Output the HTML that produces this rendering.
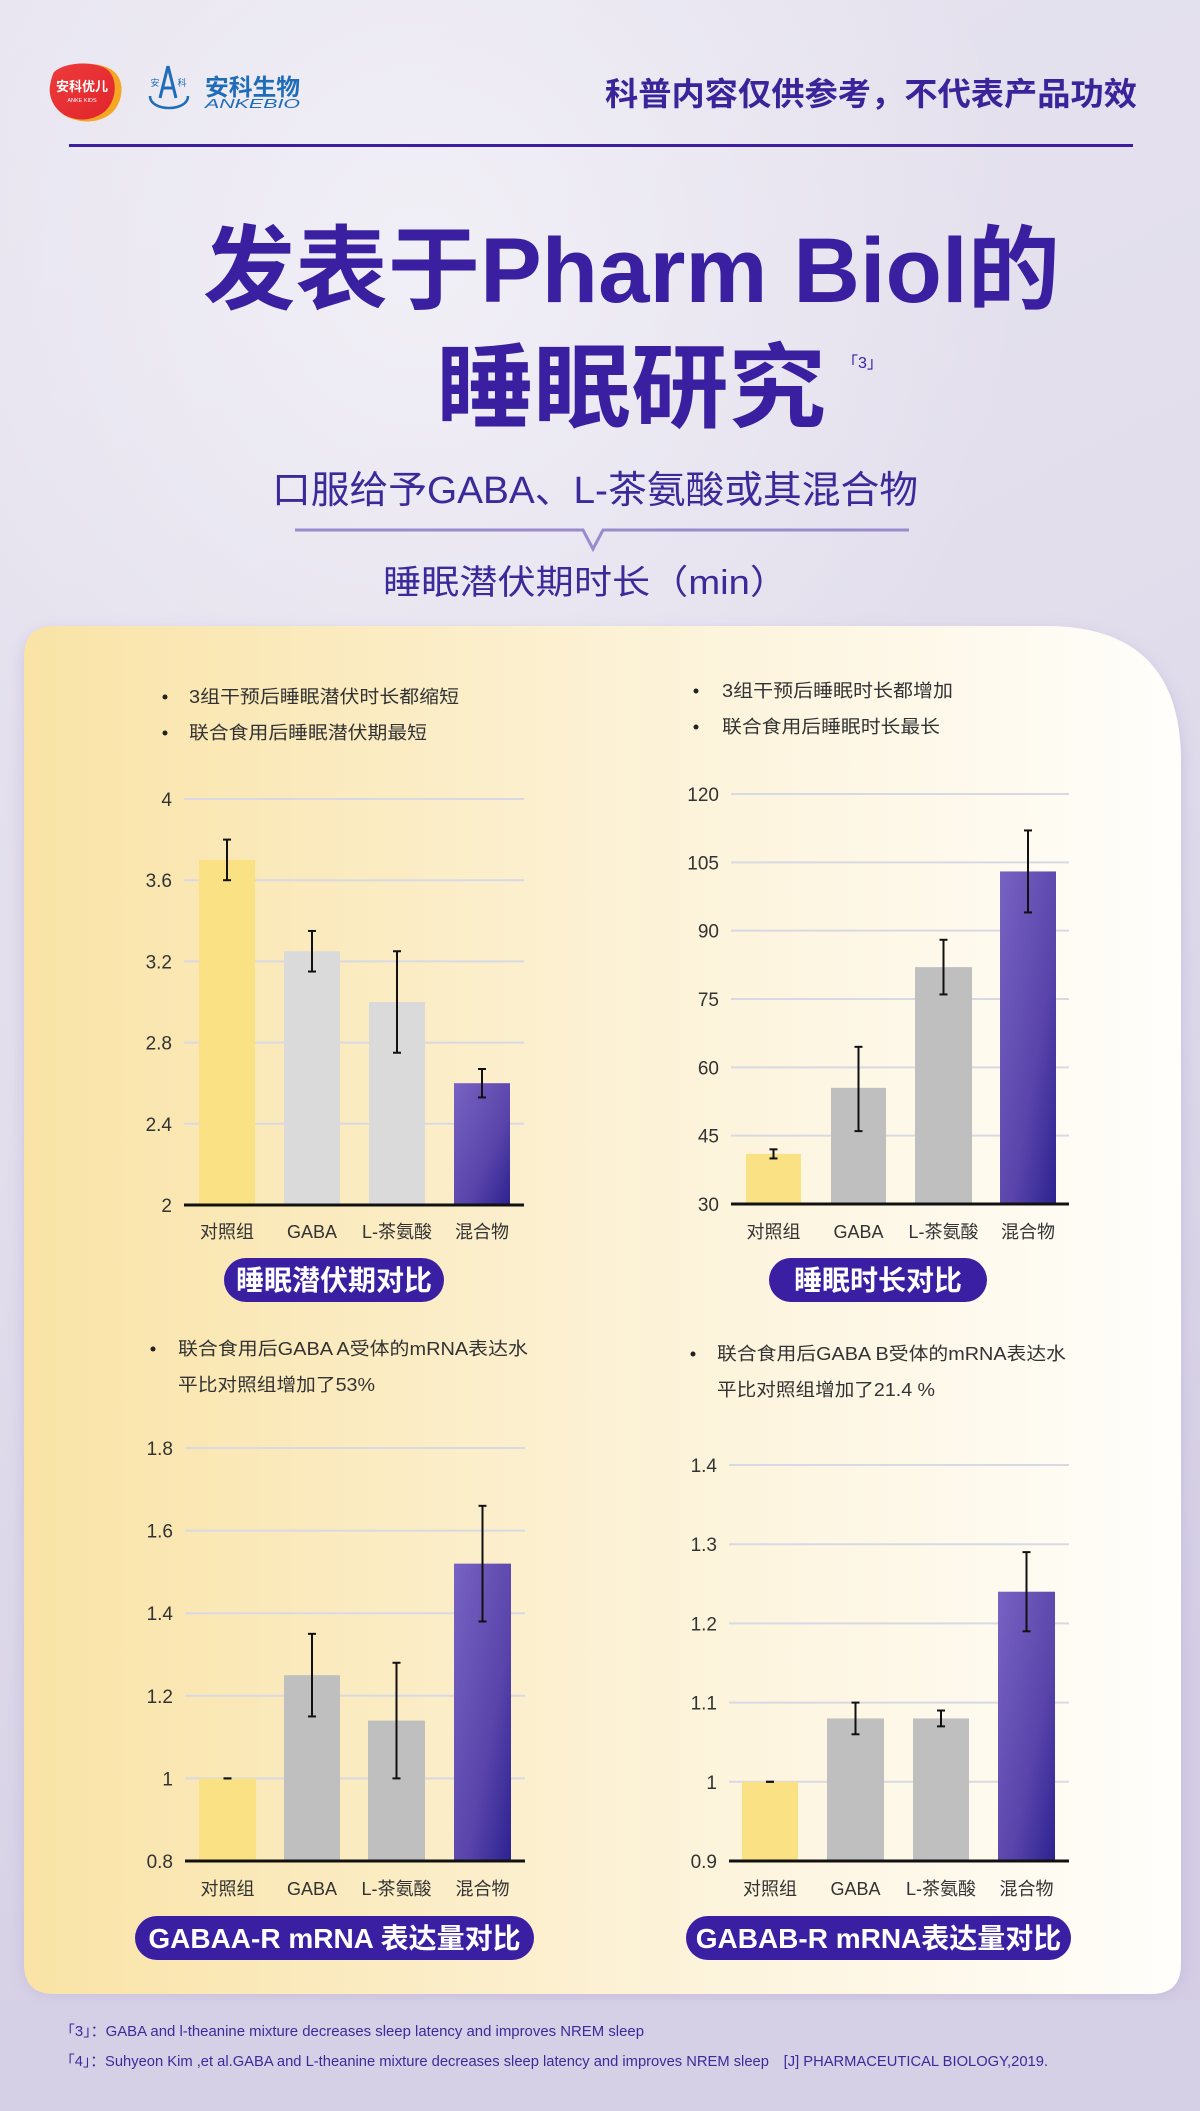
<!DOCTYPE html>
<html><head><meta charset="utf-8"><style>
html,body{margin:0;padding:0;width:1200px;height:2111px;overflow:hidden;background:#e5e2ee}
svg{display:block}
text{font-family:"Liberation Sans","Noto Sans CJK SC",sans-serif}
</style></head><body>
<svg id="s" width="1200" height="2111" viewBox="0 0 1200 2111" xmlns="http://www.w3.org/2000/svg">
<defs>
<linearGradient id="bg" x1="0" y1="0" x2="0.3" y2="1">
<stop offset="0" stop-color="#e7e4f0"/><stop offset="0.5" stop-color="#e2deec"/><stop offset="1" stop-color="#d4cde4"/></linearGradient>
<radialGradient id="glow" cx="0.35" cy="0.2" r="0.5"><stop offset="0" stop-color="#f1eff6"/><stop offset="1" stop-color="#f1eff6" stop-opacity="0"/></radialGradient>
<linearGradient id="card" x1="0" y1="0" x2="1" y2="0">
<stop offset="0" stop-color="#f9e3a6"/><stop offset="0.5" stop-color="#fcf1d4"/><stop offset="1" stop-color="#fffefb"/></linearGradient>
<linearGradient id="pur" x1="0" y1="0" x2="1" y2="1">
<stop offset="0" stop-color="#7763c2"/><stop offset="0.6" stop-color="#5a45ab"/><stop offset="1" stop-color="#2c2290"/></linearGradient>
<linearGradient id="red" x1="0" y1="0" x2="1" y2="1"><stop offset="0" stop-color="#ee3b3b"/><stop offset="1" stop-color="#e0252c"/></linearGradient>
<filter id="sh" x="-5%" y="-5%" width="110%" height="110%"><feGaussianBlur stdDeviation="8"/></filter>
</defs>
<rect width="1200" height="2111" fill="url(#bg)"/>
<rect width="1200" height="1300" fill="url(#glow)"/>
<rect x="0" y="2000" width="1200" height="111" fill="#d6d0e6"/>

<path d="M56 72 C70 60 100 62 112 70 C124 78 124 96 116 108 C108 120 90 124 76 120 C58 116 48 100 50 86 C51 80 52 76 56 72Z" fill="#f5a623"/>
<path d="M54 72 C68 60 98 62 108 70 C118 80 116 98 108 108 C100 118 84 122 72 118 C56 114 48 98 50 86 C51 80 52 76 54 72Z" fill="url(#red)"/>
<text x="82" y="91" font-size="13" font-weight="bold" fill="#fff" text-anchor="middle">安科优儿</text>
<text x="82" y="102" font-size="5.5" fill="#fff" text-anchor="middle">ANKE KIDS</text>
<path d="M168 66 L160 98 M168 66 L176 98 M163 88 L173 88" stroke="#1f6cb8" stroke-width="3" fill="none"/>
<path d="M150 96 C150 112 188 112 188 96" stroke="#1f6cb8" stroke-width="2.5" fill="none"/>
<text x="155" y="86" font-size="9" fill="#1f6cb8" text-anchor="middle">安</text>
<text x="182" y="86" font-size="9" fill="#1f6cb8" text-anchor="middle">科</text>
<text x="205" y="95" font-size="23" font-weight="bold" fill="#1f6cb8" textLength="95" lengthAdjust="spacingAndGlyphs">安科生物</text>
<text x="205" y="108" font-size="13" font-style="italic" fill="#1f6cb8" textLength="95" lengthAdjust="spacingAndGlyphs">ANKEBIO</text>

<text x="605" y="105" font-size="32" font-weight="bold" fill="#3b2399" textLength="532" lengthAdjust="spacingAndGlyphs">科普内容仅供参考，不代表产品功效</text>
<rect x="69" y="144" width="1064" height="3" fill="#3d1e9e"/>

<text x="203" y="302" font-size="92" font-weight="bold" fill="#3a1fa0" textLength="857" lengthAdjust="spacingAndGlyphs">发表于Pharm Biol的</text>
<text x="436" y="420" font-size="92" font-weight="bold" fill="#3a1fa0" textLength="390" lengthAdjust="spacingAndGlyphs">睡眠研究</text>
<text x="842" y="368" font-size="16" fill="#3a1fa0">「3」</text>
<text x="272" y="503" font-size="38" fill="#3d2a9a" textLength="646" lengthAdjust="spacingAndGlyphs">口服给予GABA、L-茶氨酸或其混合物</text>
<path d="M295 530 L583 530 L593 549 L603 530 L909 530" stroke="#9a8bcd" stroke-width="3" fill="none"/>
<text x="383" y="594" font-size="34" fill="#3d2a9a" textLength="405" lengthAdjust="spacingAndGlyphs">睡眠潜伏期时长（min）</text>

<path d="M54 632 L1046 632 Q1181 632 1181 767 L1181 1964 Q1181 1994 1151 1994 L54 1994 Q24 1994 24 1964 L24 662 Q24 632 54 632Z" fill="#b8aed6" opacity="0.6" filter="url(#sh)"/>
<path d="M54 626 L1046 626 Q1181 626 1181 761 L1181 1964 Q1181 1994 1151 1994 L54 1994 Q24 1994 24 1964 L24 656 Q24 626 54 626Z" fill="url(#card)"/>
<g id="charts"></g>

<text x="60" y="2036" font-size="15" fill="#3d2a9a" textLength="584" lengthAdjust="spacingAndGlyphs">「3」：GABA and l-theanine mixture decreases sleep latency and improves NREM sleep</text>
<text x="60" y="2066" font-size="15" fill="#3d2a9a" textLength="988" lengthAdjust="spacingAndGlyphs">「4」：Suhyeon Kim ,et al.GABA and L-theanine mixture decreases sleep latency and improves NREM sleep　[J] PHARMACEUTICAL BIOLOGY,2019.</text>
</svg>
<script>
var NS="http://www.w3.org/2000/svg",g=document.getElementById("charts");
function el(t,a,txt){var e=document.createElementNS(NS,t);for(var k in a)e.setAttribute(k,a[k]);if(txt!=null)e.textContent=txt;g.appendChild(e);return e;}
var charts=[
{x0:184,x1:524,vmin:2,vmax:4,y0:1205,y1:799,ticks:[2,2.4,2.8,3.2,3.6,4],bars:[[199,255],[284,340],[369,425],[454,510]],vals:[[3.7,3.6,3.8],[3.25,3.15,3.35],[3,2.75,3.25],[2.6,2.53,2.67]],gray:"#dadada",lbY:1238,
 bul:{dx:165,tx:189,y:[703,739],t:["3组干预后睡眠潜伏时长都缩短","联合食用后睡眠潜伏期最短"],w:[270,238],dot:[1,1]},btn:[224,444,1258,1302,"睡眠潜伏期对比",28]},
{x0:731,x1:1069,vmin:30,vmax:120,y0:1204,y1:794,ticks:[30,45,60,75,90,105,120],bars:[[746,801],[831,886],[915,972],[1000,1056]],vals:[[41,40,42],[55.5,46,64.5],[82,76,88],[103,94,112]],gray:"#bfbfbf",lbY:1238,
 bul:{dx:696,tx:722,y:[697,733],t:["3组干预后睡眠时长都增加","联合食用后睡眠时长最长"],w:[231,218],dot:[1,1]},btn:[769,987,1258,1302,"睡眠时长对比",28]},
{x0:185,x1:525,vmin:0.8,vmax:1.8,y0:1861,y1:1448,ticks:[0.8,1,1.2,1.4,1.6,1.8],bars:[[199,256],[284,340],[368,425],[454,511]],vals:[[1,1,1],[1.25,1.15,1.35],[1.14,1,1.28],[1.52,1.38,1.66]],gray:"#bfbfbf",lbY:1895,
 bul:{dx:153,tx:178,y:[1355,1391],t:["联合食用后GABA A受体的mRNA表达水","平比对照组增加了53%"],w:[350,197],dot:[1,0]},btn:[135,534,1916,1960,"GABAA-R mRNA 表达量对比",28]},
{x0:729,x1:1069,vmin:0.9,vmax:1.4,y0:1861,y1:1465,ticks:[0.9,1,1.1,1.2,1.3,1.4],bars:[[742,798],[827,884],[913,969],[998,1055]],vals:[[1,1,1],[1.08,1.06,1.1],[1.08,1.07,1.09],[1.24,1.19,1.29]],gray:"#bfbfbf",lbY:1895,
 bul:{dx:693,tx:717,y:[1360,1396],t:["联合食用后GABA B受体的mRNA表达水","平比对照组增加了21.4 %"],w:[349,218],dot:[1,0]},btn:[686,1071,1916,1960,"GABAB-R mRNA表达量对比",28]}];
var labels=["对照组","GABA","L-茶氨酸","混合物"];
charts.forEach(function(c){
 function Y(v){return c.y0+(v-c.vmin)/(c.vmax-c.vmin)*(c.y1-c.y0);}
 c.ticks.forEach(function(t){var y=Y(t);
  if(t!=c.vmin)el("line",{x1:c.x0,x2:c.x1,y1:y,y2:y,stroke:"#d9d9e3","stroke-width":2});
  el("text",{x:c.x0-12,y:y+7,"font-size":19,fill:"#333","text-anchor":"end"},String(t));});
 c.bars.forEach(function(b,i){var v=c.vals[i],top=Y(v[0]);
  var fill=i==0?"#f9e184":(i==3?"url(#pur)":c.gray);
  el("rect",{x:b[0],y:top,width:b[1]-b[0],height:c.y0-top,fill:fill});
  var cx=(b[0]+b[1])/2,a=Y(v[1]),z=Y(v[2]);
  el("line",{x1:cx,x2:cx,y1:a,y2:z,stroke:"#111","stroke-width":2});
  el("line",{x1:cx-4,x2:cx+4,y1:a,y2:a,stroke:"#111","stroke-width":2});
  el("line",{x1:cx-4,x2:cx+4,y1:z,y2:z,stroke:"#111","stroke-width":2});
  el("text",{x:cx,y:c.lbY,"font-size":18,fill:"#333","text-anchor":"middle"},labels[i]);});
 el("line",{x1:c.x0,x2:c.x1,y1:c.y0,y2:c.y0,stroke:"#111","stroke-width":3});
 c.bul.y.forEach(function(y,i){
  if(c.bul.dot[i])el("circle",{cx:c.bul.dx,cy:y-6,r:2.5,fill:"#222"});
  el("text",{x:c.bul.tx,y:y,"font-size":18,fill:"#333",textLength:c.bul.w[i],lengthAdjust:"spacingAndGlyphs"},c.bul.t[i]);});
 var b=c.btn,h=b[3]-b[2];
 el("rect",{x:b[0],y:b[2],width:b[1]-b[0],height:h,rx:h/2,fill:"#3a1fa3"});
 el("text",{x:(b[0]+b[1])/2,y:b[2]+h/2+b[5]*0.36,"font-size":b[5],"font-weight":"bold",fill:"#fff","text-anchor":"middle"},b[4]);
});
</script>
</body></html>
